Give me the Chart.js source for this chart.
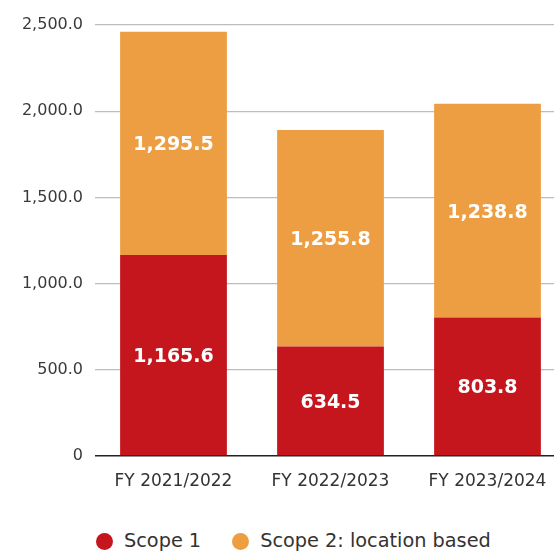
<!DOCTYPE html>
<html>
<head>
<meta charset="utf-8">
<script src="https://cdn.jsdelivr.net/npm/chart.js@4"></script>
<style>
    html, body { margin: 0; padding: 0; background: #fff; overflow: hidden; }
    #wrap { position: relative; width: 554px; height: 554px; overflow: hidden; }
    #box { position: absolute; left: 0; top: 0; width: 566px; height: 500px; }
    #legend { position: absolute; left: 96px; top: 529px; display: flex; align-items: center;
              font-family: 'DejaVu Sans', sans-serif; font-size: 19.3px; color: #333; line-height: 24px; }
    .item { display: flex; align-items: center; margin-right: 31px; }
    .dot { width: 17px; height: 17px; border-radius: 50%; margin-right: 11px; }
</style>
</head>
<body>
<div id="wrap">
    <div id="box"><canvas id="chart"></canvas></div>
    <div id="legend"></div>
</div>
<script>
/* Emissions by scope, stacked per financial year */
const years = ['FY 2021/2022', 'FY 2022/2023', 'FY 2023/2024'];
const scope1 = [1165.6, 634.5, 803.8];
const scope2 = [1295.5, 1255.8, 1238.8];
const seriesNames = ['Scope 1', 'Scope 2: location based'];
const seriesColors = ['#C4161C', '#EE9E42'];
const yTicks = [0, 500, 2500];

function fmt(v, digits) {
    return v.toLocaleString('en-US', { minimumFractionDigits: digits, maximumFractionDigits: digits });
}

/* white value labels in the middle of each segment */
const segmentLabels = {
    id: 'segmentLabels',
    afterDatasetsDraw(chart) {
        const ctx = chart.ctx;
        ctx.save();
        ctx.fillStyle = '#ffffff';
        ctx.font = 'bold 19px "DejaVu Sans", sans-serif';
        ctx.textAlign = 'center';
        ctx.textBaseline = 'middle';
        chart.data.datasets.forEach((ds, i) => {
            chart.getDatasetMeta(i).data.forEach((bar, j) => {
                const p = bar.getCenterPoint();
                ctx.fillText(fmt(ds.data[j], 1), p.x, p.y + 2);
            });
        });
        ctx.restore();
    }
};

new Chart(document.getElementById('chart'), {
    type: 'bar',
    data: {
        labels: years,
        datasets: [
            { label: seriesNames[0], data: scope1, backgroundColor: seriesColors[0] },
            { label: seriesNames[1], data: scope2, backgroundColor: seriesColors[1] }
        ]
    },
    options: {
        responsive: true,
        maintainAspectRatio: false,
        animation: false,
        layout: { padding: { top: 25, left: 0, right: 0, bottom: 0 } },
        datasets: { bar: { barPercentage: 0.68, categoryPercentage: 1 } },
        plugins: { legend: { display: false }, tooltip: { enabled: false } },
        scales: {
            x: {
                stacked: true,
                grid: { display: false },
                border: { display: false },
                ticks: { color: '#333', font: { family: 'DejaVu Sans', size: 17 }, padding: 7, maxRotation: 0 },
                afterFit: axis => { axis.height = 44; }
            },
            y: {
                stacked: true,
                min: yTicks[0],
                max: yTicks[2],
                ticks: {
                    stepSize: yTicks[1],
                    color: '#3a3a3a',
                    font: { family: 'DejaVu Sans', size: 16 },
                    padding: 12,
                    callback: v => v === 0 ? '0' : fmt(v, 1)
                },
                grid: {
                    drawTicks: false,
                    color: c => c.tick.value === 0 ? '#222' : '#bdbdbd',
                    lineWidth: c => c.tick.value === 0 ? 1.5 : 1.2
                },
                border: { display: false },
                afterFit: axis => { axis.width = 95; }
            }
        }
    },
    plugins: [segmentLabels]
});

/* legend drawn as html so it can sit where the original has it */
const legend = document.getElementById('legend');
seriesNames.forEach((name, i) => {
    const item = document.createElement('div');
    item.className = 'item';
    item.innerHTML = '<span class="dot" style="background:' + seriesColors[i] + '"></span><span>' + name + '</span>';
    legend.appendChild(item);
});
</script>
</body>
</html>
